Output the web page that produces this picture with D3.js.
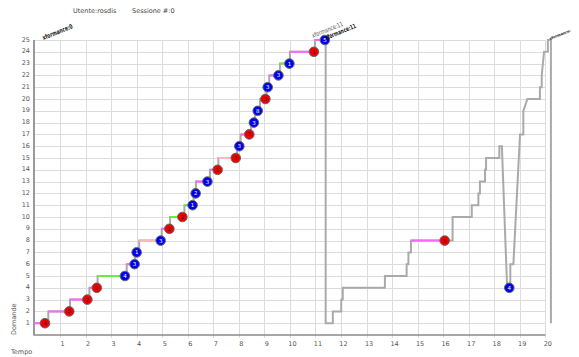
<!DOCTYPE html>
<meta charset="utf-8">

<head>
    <title>Utente rosdis - Sessione 0</title>
</head>

<style>
    body {
        margin: 0;
        background: #fff;
    }

    * {
        font-family: 'DejaVu Sans', sans-serif;
    }

    .tick_text {
        font-size: 6.5px;
        fill: #555;
    }

    .header {
        font-size: 6.5px;
        fill: #444;
    }

    .grid line {
        stroke: #dcdcdc;
        stroke-width: 1;
        shape-rendering: crispEdges;
    }

    .perf {
        font-weight: bold;
        fill: #111;
    }
</style>

<body>
    <svg id="chart" width="579" height="357"></svg>

    <script src="https://d3js.org/d3.v7.min.js"></script>
    <script>
        // session 0: one entry per answered question
        const sess1Time = [0.41, 1.36, 2.07, 2.44, 3.54, 3.92, 4.00, 4.94, 5.28, 5.79, 6.19, 6.31, 6.77,
            7.17, 7.88, 8.02, 8.41, 8.59, 8.74, 9.04, 9.13, 9.55, 9.98, 10.94, 11.37];
        const sess1Rise = [0.00, 0.54, 1.39, 2.15, 2.47, 3.61, 3.93, 4.10, 4.98, 5.31, 5.87, 6.23, 6.32,
            6.87, 7.20, 7.93, 8.07, 8.48, 8.63, 8.83, 9.08, 9.19, 9.61, 10.00, 10.98];
        const sess1Value = [1, 2, 3, 4, 5, 6, 7, 8, 9, 10, 11, 12, 13, 14, 15, 16, 17, 18, 19, 20, 21, 22, 23, 24, 25];
        const sess1Dot = ["r", "r", "r", "r", "b", "b", "b", "b", "r", "r", "b", "b", "b",
            "r", "r", "b", "r", "b", "b", "r", "b", "b", "b", "r", "b"];
        const sess1Label = ["4", "5", "2", "1", "4", "3", "1", "3", "2", "2", "1", "2", "3",
            "1", "3", "3", "3", "3", "8", "3", "3", "3", "1", "1", "5"];
        const sess1Wait = ["m", "m", "m", "m", "g", "m", "m", "p", "m", "g", "g", "", "m",
            "m", "p", "", "m", "", "", "m", "", "m", "g", "m", "m"];

        // second run (gray step line)
        const sess2T = [11.40, 11.40, 11.68, 11.68, 12.01, 12.01, 12.07, 12.07, 13.72, 13.72, 14.57, 14.57, 14.64, 14.64,
            14.74, 14.74, 16.37, 16.37, 17.12, 17.12, 17.38, 17.38, 17.44, 17.44, 17.64, 17.64, 17.68, 17.68,
            18.20, 18.20, 18.30, 18.50, 18.59, 18.63, 18.63, 18.75, 19.01, 19.14, 19.14, 19.30, 19.79, 19.79,
            19.86, 19.86, 19.95, 20.10, 20.10, 20.22, 20.22];
        const sess2V = [25, 1, 1, 2, 2, 3, 3, 4, 4, 5, 5, 6, 6, 7,
            7, 8, 8, 10, 10, 11, 11, 12, 12, 13, 13, 14, 14, 15,
            15, 16, 16, 4.3, 4, 4, 6, 6, 17, 17, 19, 20, 20, 21,
            21, 22, 24, 24, 25, 25, 1];
        const sess2WaitFrom = [14.74];
        const sess2WaitTo = [16.06];
        const sess2WaitV = [8];
        const sess2DotT = [16.06, 18.59];
        const sess2DotV = [8, 4];
        const sess2Dot = ["r", "b"];
        const sess2Label = ["5", "4"];

        const xTicks = d3.range(1, 21);
        const yTicks = d3.range(1, 26);
        const perfLabels = [
            { t: 0.0, text: "xformance:0", bold: true, dx: 9, len: 32, size: 6.5 },
            { t: 10.94, text: "xformance:11", bold: false, dx: -1, len: 33, size: 6.5 },
            { t: 11.37, text: "xformance:11", bold: true, dx: 1, len: 33, size: 6.5 },
            { t: 20.22, text: "xformance:", bold: true, dx: -1, len: 0, size: 3.6 }
        ];

        const waitColors = { m: "#ff66ff", g: "#66ee44", p: "#ffb8b8" };
        const dotColors = { r: "#ee0000", b: "#0000ee" };

        const chart = d3.select("#chart");
        const xScale = d3.scaleLinear().domain([0, 20]).range([34.5, 545.3]);
        const yScale = d3.scaleLinear().domain([0, 25]).range([335, 40]);

        // header
        chart.append("text").attr("class", "header").attr("x", 73).attr("y", 13).text("Utente:rosdis");
        chart.append("text").attr("class", "header").attr("x", 132).attr("y", 13).text("Sessione #:0");

        // grid
        const grid = chart.append("g").attr("class", "grid");
        grid.selectAll(".vline").data(xTicks).enter().append("line")
            .attr("x1", d => Math.round(xScale(d)) + 0.5).attr("x2", d => Math.round(xScale(d)) + 0.5)
            .attr("y1", yScale(25)).attr("y2", yScale(0) + 3);
        grid.selectAll(".hline").data(yTicks).enter().append("line")
            .attr("x1", xScale(0)).attr("x2", xScale(20))
            .attr("y1", d => Math.round(yScale(d)) + 0.5).attr("y2", d => Math.round(yScale(d)) + 0.5);

        // axes
        chart.append("line")
            .attr("x1", xScale(0) - 0.5).attr("x2", xScale(0) - 0.5)
            .attr("y1", yScale(25)).attr("y2", yScale(0))
            .style("stroke", "#999").style("stroke-width", 2);
        chart.append("line")
            .attr("x1", xScale(0) - 1).attr("x2", xScale(20))
            .attr("y1", yScale(0)).attr("y2", yScale(0))
            .style("stroke", "#888").style("stroke-width", 1.5);

        chart.append("g").selectAll("text").data(xTicks).enter().append("text")
            .attr("class", "tick_text")
            .attr("x", d => xScale(d) + 2.5)
            .attr("y", yScale(0) + 11)
            .attr("text-anchor", "middle")
            .text(d => d);
        chart.append("g").selectAll("text").data(yTicks).enter().append("text")
            .attr("class", "tick_text")
            .attr("x", 30)
            .attr("y", d => yScale(d) + 1.5)
            .attr("text-anchor", "end")
            .text(d => d);

        chart.append("text").attr("class", "tick_text")
            .attr("x", 11).attr("y", 354).text("Tempo");
        chart.append("text").attr("class", "tick_text")
            .attr("transform", "translate(16,335)rotate(-90)").text("Domande");

        // gray step path, session 0
        const pts1 = [];
        sess1Value.forEach((v, i) => {
            pts1.push([sess1Rise[i], v]);
            pts1.push([sess1Time[i], v]);
            if (i + 1 < sess1Value.length) {
                pts1.push([sess1Rise[i + 1], v]);
            }
        });
        const lineGen = d3.line().x(d => xScale(d[0])).y(d => yScale(d[1]));
        chart.append("path")
            .attr("d", lineGen(pts1))
            .style("fill", "none").style("stroke", "#aaa").style("stroke-width", 2);

        // gray step path, second run
        chart.append("path")
            .attr("d", lineGen(sess2T.map((t, i) => [t, sess2V[i]])))
            .style("fill", "none").style("stroke", "#aaa").style("stroke-width", 2);

        // waiting segments
        const waits = [];
        sess1Wait.forEach((w, i) => {
            if (w) waits.push({ a: sess1Rise[i], b: sess1Time[i], v: sess1Value[i], c: waitColors[w] });
        });
        sess2WaitFrom.forEach((a, i) => {
            waits.push({ a: a, b: sess2WaitTo[i], v: sess2WaitV[i], c: waitColors.m });
        });
        chart.append("g").selectAll("line").data(waits).enter().append("line")
            .attr("x1", d => xScale(d.a)).attr("x2", d => xScale(d.b))
            .attr("y1", d => yScale(d.v)).attr("y2", d => yScale(d.v))
            .style("stroke", d => d.c).style("stroke-width", 2);

        // dots
        const dots = sess1Value.map((v, i) => ({ t: sess1Time[i], v: v, k: sess1Dot[i], l: sess1Label[i] }))
            .concat(sess2DotT.map((t, i) => ({ t: t, v: sess2DotV[i], k: sess2Dot[i], l: sess2Label[i] })));
        const dotG = chart.append("g").selectAll("g").data(dots).enter().append("g")
            .attr("transform", d => "translate(" + xScale(d.t) + "," + yScale(d.v) + ")");
        dotG.append("circle")
            .attr("r", 4.8)
            .style("fill", d => dotColors[d.k])
            .style("stroke", "#666").style("stroke-width", 1);
        dotG.append("text")
            .attr("y", 2)
            .attr("text-anchor", "middle")
            .style("font-size", "5.5px")
            .style("fill", d => d.k == "b" ? "#fff" : "#400")
            .text(d => d.l);

        // rotated performance labels
        const perf = chart.append("g").selectAll("text").data(perfLabels).enter().append("text")
            .attr("class", "perf")
            .attr("transform", d => "translate(" + (xScale(d.t) + d.dx) + "," + (d.bold ? 40 : 38) + ")rotate(-22)")
            .style("font-size", d => d.size + "px")
            .style("font-weight", d => d.bold ? "bold" : "normal")
            .style("fill", d => d.bold ? "#111" : "#555")
            .text(d => d.text);
        perf.filter(d => d.len > 0)
            .attr("textLength", d => d.len)
            .attr("lengthAdjust", "spacingAndGlyphs");
    </script>
</body>

</html>
